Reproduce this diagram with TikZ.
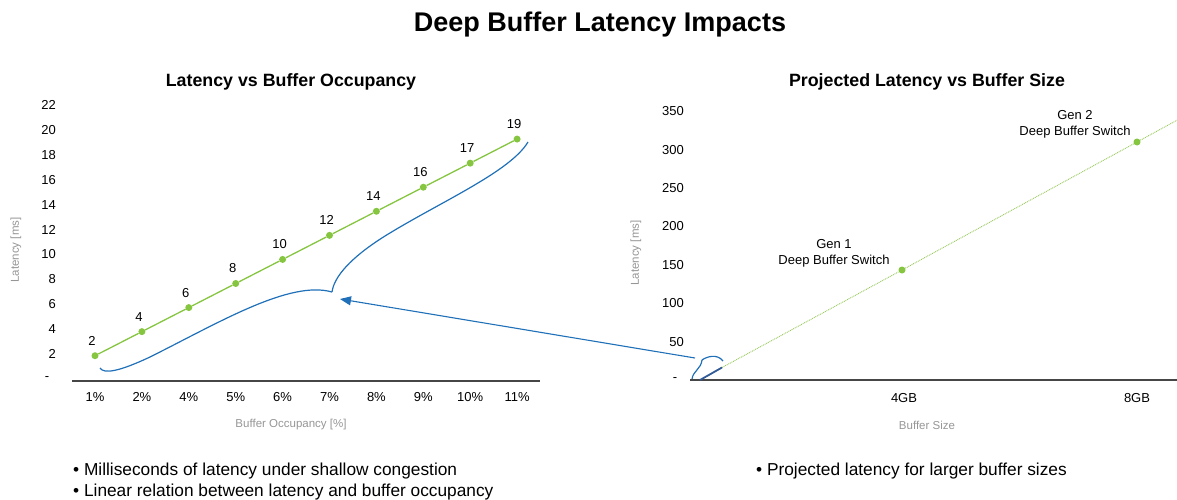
\documentclass[tikz,border=0pt]{standalone}
\usepackage{fontspec}
\setmainfont{Liberation Sans}
\usetikzlibrary{arrows.meta}

\definecolor{nvgreen}{RGB}{134,197,64}
\definecolor{dotgreen}{RGB}{150,200,90}
\definecolor{bracblue}{RGB}{31,112,184}
\definecolor{segblue}{RGB}{50,90,150}
\definecolor{labgray}{RGB}{150,150,150}
\definecolor{axisline}{RGB}{70,70,70}

\tikzset{
  datadot/.style   = {circle, fill=nvgreen, inner sep=0pt, minimum size=7pt},
  ticklab/.style   = {inner sep=0pt, font=\fontsize{13}{15}\selectfont},
  axtitle/.style   = {text=labgray, inner sep=0pt, font=\fontsize{11.5}{13}\selectfont},
  charttitle/.style= {anchor=base, inner sep=0pt, font=\fontsize{17.8}{20}\selectfont\bfseries},
  bulletline/.style= {anchor=base west, inner sep=0pt, font=\fontsize{17.3}{20}\selectfont},
  bracket/.style   = {bracblue, line width=1.2pt},
}

\begin{document}
\begin{tikzpicture}[x=1pt, y=-1pt]
    \useasboundingbox (0,0) rectangle (1177,499);

    \node[anchor=base, inner sep=0pt, font=\fontsize{27}{30}\selectfont\bfseries]
        (title) at (600,31.5) {Deep Buffer Latency Impacts};

    %% left chart
    \begin{scope}
      \node[charttitle] (ltitle) at (291,86) {Latency vs Buffer Occupancy};

      %% axis
      \draw[axisline, line width=1.5pt] (72,381) -- (540,381);
      \node[ticklab] (ldash) at (47,379) {-};

      \foreach \v in {2,4,...,22} {
        \node[ticklab, anchor=east] (ly\v) at (56,379-12.45*\v) {\v}; }

      \foreach \i/\lab in {0/1,1/2,2/4,3/5,4/6,5/7,6/8,7/9,8/10,9/11} {
        \node[ticklab] (lx\i) at (95+46.9*\i,397) {\lab\%}; }

      \node[axtitle] (lxname) at (291,425) {Buffer Occupancy [\%]};
      \node[axtitle, rotate=90] (lyname) at (16,250) {Latency [ms]};

      %% data
      \foreach \i/\lab in {0/2,1/4,2/6,3/8,4/10,5/12,6/14,7/16,8/17,9/19} {
        \node[datadot] (p\i) at (95+46.9*\i,355.7-24.07*\i) {};
        \node[ticklab] (pl\i) at ([xshift=-3pt,yshift=15pt]p\i) {\lab}; }
      \foreach \i [count=\j from 1] in {0,...,8} {
        \draw[nvgreen, line width=1.3pt] (p\i) -- (p\j); }

      %% brace under the data
      \coordinate (lbrtip) at (332,292);
      \draw[bracket] (100,368) .. controls (104,374) and (118,372) .. (150,357)
          .. controls (220,322) and (290,280) .. (lbrtip);
      \draw[bracket] (lbrtip) .. controls (334,277) and (350,258) .. (385,236)
          .. controls (440,202) and (510,172) .. (528,142);
      \coordinate (arrowend) at (340,299);
    \end{scope}

    %% right chart
    \begin{scope}
      \node[charttitle] (rtitle) at (927,86) {Projected Latency vs Buffer Size};

      %% axis
      \draw[axisline, line width=1.5pt] (690,380) -- (1177,380);
      \node[ticklab] (rdash) at (675,380) {-};

      \foreach \v in {50,100,...,350} {
        \node[ticklab, anchor=east] (ry\v) at (684,380-0.768*\v) {\v}; }

      \node[ticklab] (rx4) at (904,398) {4GB};
      \node[ticklab] (rx8) at (1137,398) {8GB};

      \node[axtitle] (rxname) at (927,425) {Buffer Size};
      \node[axtitle, rotate=90] (ryname) at (636,253) {Latency [ms]};

      %% projection
      \node[datadot] (gen1) at (902,270) {};
      \node[datadot] (gen2) at (1137,142) {};
      \coordinate (rstart) at (700,380);
      \coordinate (rseg) at (722,367.5);
      \coordinate (rend) at (1180,118.6);
      \draw[dotgreen, line width=0.9pt, dash pattern=on 0.9pt off 0.9pt]
          (rseg) -- (gen1) -- (gen2) -- (rend);
      \draw[segblue, line width=1.8pt] (rstart) -- (rseg);

      \node[ticklab, align=center] (gen1lab) at (834,253)
          {Gen 1\\[1pt]Deep Buffer Switch};
      \node[ticklab, align=center] (gen2lab) at (1075,124)
          {Gen 2\\[1pt]Deep Buffer Switch};

      %% small brace at origin
      \coordinate (rbrtip) at (702,360);
      \draw[bracket] (692,379) .. controls (693,371) and (701,369) .. (rbrtip);
      \draw[bracket] (rbrtip) .. controls (706,357) and (717,353) .. (723,361);
      \coordinate (arrowstart) at (695,358);
    \end{scope}

    %% arrow from small brace back to the left chart
    \draw[bracket, line width=1.1pt, -{Triangle[length=11pt, width=9pt]}]
        (arrowstart) -- (arrowend);

    %% bullets
    \node[bulletline] (lb1) at (73,475) {\textbullet\ Milliseconds of latency under shallow congestion};
    \node[bulletline] (lb2) at (73,496.5) {\textbullet\ Linear relation between latency and buffer occupancy};
    \node[bulletline] (rb1) at (756,475) {\textbullet\ Projected latency for larger buffer sizes};

\end{tikzpicture}
\end{document}
